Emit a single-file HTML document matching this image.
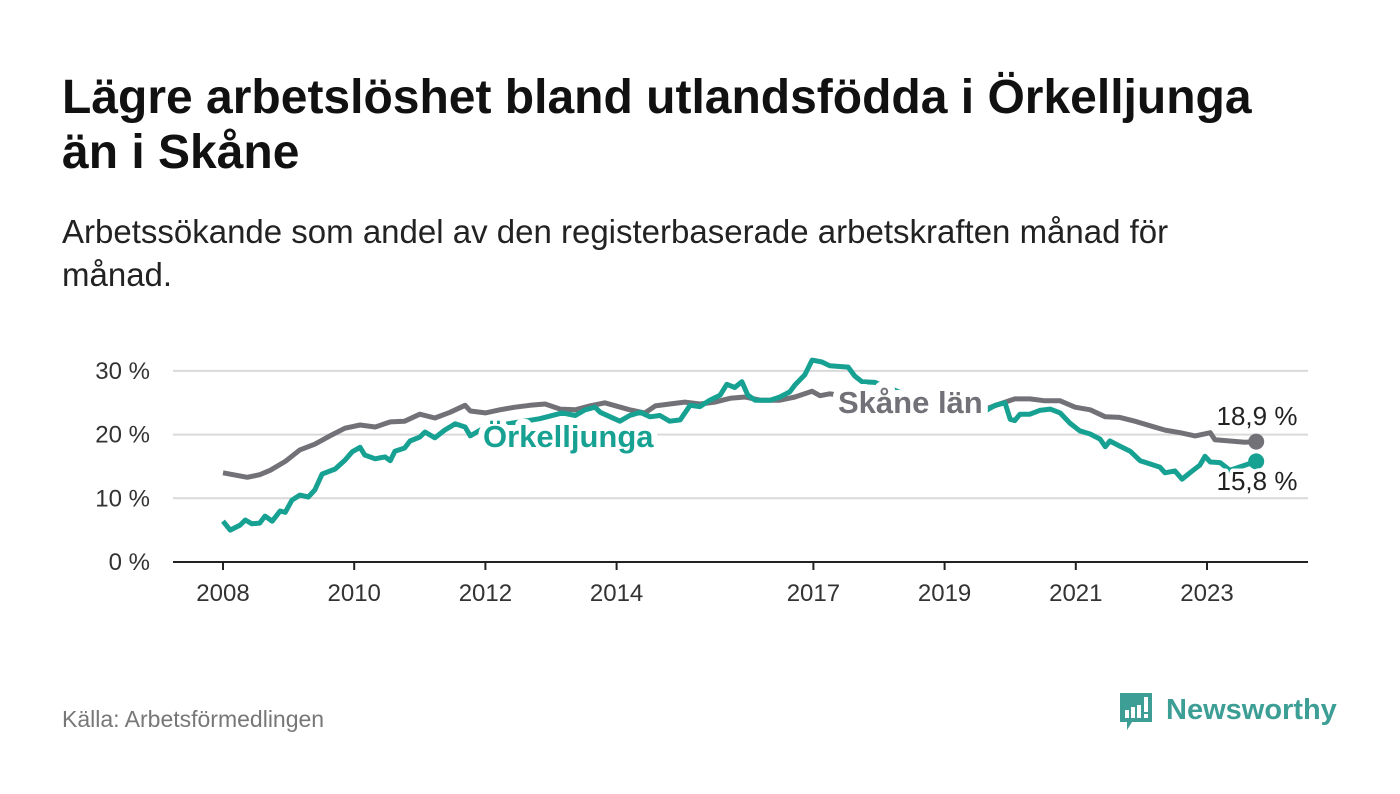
<!DOCTYPE html>
<html><head><meta charset="utf-8">
<style>
body{margin:0;background:#fff;width:1400px;height:794px;overflow:hidden;font-family:"Liberation Sans",sans-serif;}
.t{position:absolute;left:62px;top:70px;font-size:48px;font-weight:bold;color:#111;line-height:55px;width:1330px;white-space:nowrap;}
.s{position:absolute;left:62px;top:210px;font-size:33px;color:#222;line-height:43px;width:1330px;white-space:nowrap;}
.src{position:absolute;left:62px;top:706px;font-size:23px;color:#777;}
</style></head><body>
<div class="t">Lägre arbetslöshet bland utlandsfödda i Örkelljunga<br>än i Skåne</div>
<div class="s">Arbetssökande som andel av den registerbaserade arbetskraften månad för<br>månad.</div>
<div class="src">Källa: Arbetsförmedlingen</div>
<svg width="1400" height="794" style="position:absolute;left:0;top:0" id="chart">
<g>
<path d="M1120 693 h32 v29 h-20 l-5 8 v-8 h-7 z" fill="#3c9e95"/>
<rect x="1125" y="710" width="4" height="8" fill="#fff"/><rect x="1131" y="707" width="4" height="11" fill="#fff"/><rect x="1137" y="705" width="4" height="13" fill="#fff"/><rect x="1144" y="697" width="4" height="15" fill="#fff"/><rect x="1144" y="714" width="4" height="4" fill="#fff"/>
<text x="1166" y="719" font-size="29" font-weight="bold" fill="#3c9e95" font-family="Liberation Sans, sans-serif">Newsworthy</text>
</g>
</svg>
<script>
const yTicks=[0,10,20,30];
const yTickLabels=["0 %","10 %","20 %","30 %"];
const xTicks=[2008,2010,2012,2014,2017,2019,2021,2023];
const skaneYears=[2008.00,2008.37,2008.56,2008.72,2008.95,2009.17,2009.40,2009.63,2009.86,2010.09,2010.32,2010.55,2010.77,2011.00,2011.23,2011.46,2011.69,2011.77,2012.00,2012.22,2012.45,2012.68,2012.91,2013.14,2013.37,2013.59,2013.82,2014.20,2014.43,2014.59,2014.81,2015.04,2015.27,2015.50,2015.73,2015.96,2016.19,2016.49,2016.72,2016.98,2017.10,2017.25,2017.86,2018.47,2019.08,2019.62,2019.84,2020.07,2020.30,2020.53,2020.76,2020.99,2021.22,2021.45,2021.67,2021.90,2022.13,2022.36,2022.59,2022.82,2023.05,2023.12,2023.35,2023.58,2023.75];
const skaneValues=[14.0,13.3,13.7,14.4,15.8,17.6,18.5,19.8,21.0,21.5,21.2,22.0,22.1,23.2,22.6,23.5,24.6,23.7,23.4,23.9,24.3,24.6,24.8,24.0,23.9,24.5,25.0,23.9,23.4,24.5,24.8,25.1,24.8,25.1,25.7,25.9,25.4,25.4,25.9,26.8,26.1,26.4,25.5,25.0,24.5,24.0,24.8,25.6,25.6,25.3,25.3,24.3,23.9,22.8,22.7,22.1,21.4,20.7,20.3,19.8,20.3,19.2,19.0,18.8,18.9];
const orkYears=[2008.00,2008.11,2008.26,2008.34,2008.44,2008.56,2008.64,2008.75,2008.87,2008.95,2009.05,2009.17,2009.30,2009.40,2009.51,2009.71,2009.86,2009.97,2010.09,2010.16,2010.32,2010.47,2010.55,2010.62,2010.77,2010.85,2011.00,2011.08,2011.23,2011.38,2011.54,2011.69,2011.77,2011.92,2012.22,2012.53,2012.83,2013.17,2013.37,2013.52,2013.67,2013.75,2014.05,2014.20,2014.36,2014.51,2014.66,2014.81,2014.97,2015.12,2015.27,2015.42,2015.58,2015.68,2015.80,2015.91,2016.00,2016.11,2016.34,2016.49,2016.64,2016.72,2016.87,2016.98,2017.13,2017.25,2017.53,2017.63,2017.74,2017.94,2018.47,2019.08,2019.62,2019.77,2019.92,2020.00,2020.07,2020.15,2020.30,2020.45,2020.61,2020.76,2020.91,2021.06,2021.22,2021.37,2021.45,2021.52,2021.67,2021.83,2021.98,2022.13,2022.28,2022.36,2022.51,2022.62,2022.74,2022.89,2022.97,2023.05,2023.20,2023.35,2023.75];
const orkValues=[6.4,5.0,5.8,6.6,6.0,6.1,7.2,6.4,8.0,7.8,9.7,10.5,10.2,11.3,13.8,14.6,16.0,17.3,18.0,16.8,16.2,16.5,15.9,17.4,17.9,19.0,19.6,20.4,19.5,20.7,21.7,21.2,19.8,20.7,21.5,22.0,22.5,23.4,23.0,23.9,24.3,23.5,22.1,23.0,23.5,22.8,23.0,22.1,22.3,24.6,24.4,25.4,26.2,27.9,27.4,28.3,26.2,25.4,25.4,25.9,26.7,27.8,29.4,31.7,31.4,30.8,30.6,29.2,28.3,28.2,26.0,24.5,23.7,24.6,25.0,22.4,22.2,23.2,23.2,23.8,24.0,23.4,21.8,20.6,20.1,19.3,18.1,19.0,18.2,17.4,15.9,15.4,14.9,14.0,14.3,13.0,14.0,15.2,16.6,15.7,15.6,14.4,15.8];

const NS="http://www.w3.org/2000/svg";
const svg=document.getElementById('chart');
const X=y=>223+(y-2008)*65.6;
const Y=v=>562-v*6.37;
function mk(tag,attrs,parent){const e=document.createElementNS(NS,tag);for(const k in attrs)e.setAttribute(k,attrs[k]);(parent||svg).appendChild(e);return e;}
yTicks.forEach((t,i)=>{
  if(t>0){const l=mk('line',{x1:173,x2:1308,y1:Y(t),y2:Y(t),stroke:'#d9d9d9','stroke-width':2});
  
  }
  const tx=mk('text',{x:150,y:Y(t)+8,'text-anchor':'end','font-size':24,fill:'#333'});
  tx.textContent=yTickLabels[i];
  
  
});
const ax=mk('line',{x1:173,x2:1308,y1:562,y2:562,stroke:'#222','stroke-width':2});


xTicks.forEach(t=>{
  const tk=mk('line',{x1:X(t),x2:X(t),y1:562,y2:570,stroke:'#222','stroke-width':2});
  
  
  const tx=mk('text',{x:X(t),y:601,'text-anchor':'middle','font-size':24,fill:'#333'});
  tx.textContent=t;
  
  
});
function line(xs,vs,color,name){
  const d=xs.map((x,i)=>(i?'L':'M')+X(x).toFixed(1)+' '+Y(vs[i]).toFixed(1)).join(' ');
  const p=mk('path',{d:d,fill:'none',stroke:color,'stroke-width':5,'stroke-linejoin':'round'});
  
  
  const c=mk('circle',{cx:X(xs[xs.length-1]),cy:Y(vs[vs.length-1]),r:8,fill:color});
  
  
}
line(skaneYears,skaneValues,'#737178','skane-line');
line(orkYears,orkValues,'#17a192','orkelljunga-line');
function label(x,y,txt,color,size,weight,name,anchor,halo){
  const t=mk('text',{x:x,y:y,'font-size':size,'font-weight':weight,fill:color,stroke:'#fff','stroke-width':halo||7,'paint-order':'stroke','stroke-linejoin':'round','text-anchor':anchor||'start'});
  t.textContent=txt;
  
  
}
label(483,447,'Örkelljunga','#17a192',31,'bold','orkelljunga-label',null,12);
label(838,413,'Skåne län','#737178',31,'bold','skane-label',null,14);
label(1257,425,'18,9 %','#222',26,'normal','skane-end-value','middle');
label(1257,490,'15,8 %','#222',26,'normal','orkelljunga-end-value','middle');
</script>
</body></html>
